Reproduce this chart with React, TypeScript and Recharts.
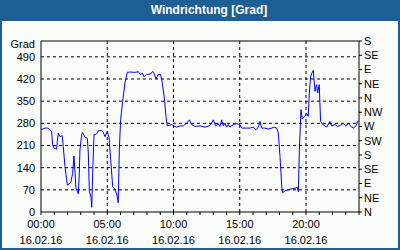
import React from 'react';
import { LineChart, Line, XAxis, YAxis, ReferenceLine } from 'recharts';

// Messzeitpunkte (Stunden seit 00:00) und Windrichtung in Grad
const hours = [
  0, 0.3, 0.5, 0.68, 0.8, 0.88, 0.98, 1.18, 1.23, 1.3, 1.43, 1.6, 1.68, 1.81, 1.99, 2.14, 2.26, 2.39,
  2.49, 2.57, 2.64, 2.82, 2.89, 2.94, 3.07, 3.14, 3.32, 3.5, 3.57, 3.65, 3.77, 3.83, 3.9, 4.0, 4.2,
  4.33, 4.58, 4.7, 4.83, 5.0, 5.13, 5.26, 5.41, 5.58, 5.71, 5.83, 5.91, 6.01, 6.16, 6.34, 6.51, 6.72,
  7.09, 7.35, 7.52, 7.65, 7.77, 7.97, 8.28, 8.43, 8.55, 8.68, 8.85, 9.03, 9.15, 9.31, 9.43, 9.53, 9.86,
  10.04, 10.24, 10.5, 10.74, 11.0, 11.2, 11.37, 11.62, 12.0, 12.38, 12.7, 12.88, 13.0, 13.19, 13.38,
  13.5, 13.64, 13.76, 13.89, 14.0, 14.14, 14.26, 14.51, 14.77, 15.02, 15.15, 15.52, 15.77, 16.02,
  16.23, 16.4, 16.53, 16.66, 16.9, 17.15, 17.41, 17.58, 17.79, 17.91, 18.04, 18.17, 18.24, 18.42,
  18.79, 19.17, 19.35, 19.42, 19.5, 19.62, 19.72, 19.92, 20.05, 20.17, 20.25, 20.35, 20.45, 20.55,
  20.68, 20.8, 20.88, 21.0, 21.1, 21.3, 21.56, 21.8, 21.94, 22.19, 22.4, 22.7, 22.8, 23.0, 23.2,
  23.45, 23.6, 23.77, 23.94,
];
const degrees = [
  260, 265, 265, 260, 254, 212, 202, 198, 223, 249, 238, 241, 207, 143, 85, 89, 96, 122,
  177, 122, 75, 57, 123, 196, 244, 251, 236, 233, 186, 64, 48, 15, 123, 244, 247,
  257, 257, 251, 238, 254, 236, 165, 80, 72, 57, 29, 196, 291, 349, 408, 441, 442,
  441, 443, 434, 439, 427, 434, 436, 444, 436, 420, 434, 434, 408, 360, 302, 272, 276,
  272, 268, 272, 272, 281, 291, 276, 270, 272, 268, 272, 281, 291, 272, 279,
  270, 291, 272, 281, 268, 276, 268, 276, 279, 276, 265, 265, 265, 268,
  260, 268, 286, 265, 265, 262, 265, 268, 265, 249, 175, 80, 61, 67,
  72, 75, 78, 64, 196, 323, 294, 302, 312, 302, 376, 428, 439, 447,
  381, 402, 376, 402, 286, 275, 268, 286, 272, 276, 270, 276, 281, 272, 279,
  268, 265, 272, 289,
];

const hourTicks = Array.from({ length: 25 }, (_, i) => i);
const labelHours = [0, 5, 10, 15, 20];
const timeLabels = ['00:00', '05:00', '10:00', '15:00', '20:00'];
const dateLabel = '16.02.16';
const degreeTicks = [0, 70, 140, 210, 280, 350, 420, 490];
const compassTicks = [0, 45, 90, 135, 180, 225, 270, 315, 360, 405, 450, 495, 540];
const compassLabels = ['N', 'NE', 'E', 'SE', 'S', 'SW', 'W', 'NW', 'N', 'NE', 'E', 'SE', 'S'];

const data = hours.map((t, i) => ({ t, v: degrees[i] }));

const FONT = '"Liberation Sans", Arial, sans-serif';
const tickStyle = { fill: '#000', fontSize: 11, fontFamily: FONT };

const TimeTick = ({ x, y, payload }: any) => {
  const idx = labelHours.indexOf(Number(payload.value));
  if (idx < 0) return <g />;
  return (
    <g>
      <text x={x} y={y + 11} textAnchor="middle" {...tickStyle}>{timeLabels[idx]}</text>
      <text x={x} y={y + 27} textAnchor="middle" {...tickStyle}>{dateLabel}</text>
    </g>
  );
};

const CompassTick = ({ x, y, payload }: any) => {
  const idx = compassTicks.indexOf(Number(payload.value));
  return (
    <text x={x} y={y} dy="0.355em" textAnchor="start" {...tickStyle}>
      {idx >= 0 ? compassLabels[idx] : ''}
    </text>
  );
};

export default function App() {
  return (
    <div style={{ position: 'absolute', left: 0, top: 0, width: 400, height: 250, background: '#1d5f94', fontFamily: FONT }}>
      <div style={{ position: 'absolute', left: 9, top: 3, width: 400, textAlign: 'center', color: '#fff', fontWeight: 'bold', fontSize: 12 }}>
        Windrichtung [Grad]
      </div>
      <div style={{ position: 'absolute', left: 2, top: 21, width: 396, height: 227, background: '#fafcfa' }} />
      <div style={{ position: 'absolute', right: 365, top: 38, fontSize: 11, lineHeight: '13px', color: '#000' }}>Grad</div>
      <div style={{ position: 'absolute', left: 0, top: 0, width: 400, height: 250 }}>
        <LineChart width={400} height={250} data={data} margin={{ top: 41, right: 0, bottom: 0, left: 0 }}>
          <XAxis
            dataKey="t"
            type="number"
            domain={[0, 24]}
            ticks={hourTicks}
            interval={0}
            height={38}
            tickSize={3}
            tick={<TimeTick />}
            stroke="#000"
          />
          <YAxis
            yAxisId="left"
            orientation="left"
            domain={[0, 540]}
            ticks={degreeTicks}
            interval={0}
            width={41}
            tickSize={4}
            tickLine={false}
            tick={tickStyle}
            stroke="#000"
          />
          <YAxis
            yAxisId="right"
            orientation="right"
            type="number"
            domain={[0, 540]}
            ticks={compassTicks}
            interval={0}
            width={41}
            tickSize={3}
            tickLine={{ stroke: '#000' }}
            axisLine={{ stroke: '#000' }}
            tick={<CompassTick />}
            stroke="#000"
          />
          {degreeTicks.slice(1).map((d) => (
            <ReferenceLine key={'h' + d} yAxisId="left" y={d} stroke="#000" strokeDasharray="3 3" />
          ))}
          {labelHours.slice(1).map((h) => (
            <ReferenceLine key={'v' + h} yAxisId="left" x={h} stroke="#000" strokeDasharray="3 3" />
          ))}
          <ReferenceLine yAxisId="left" y={540} stroke="#000" />
          {/* unsichtbare Serie, damit die rechte Achse gezeichnet wird */}
          <Line
            yAxisId="right"
            type="linear"
            dataKey="v"
            stroke="none"
            dot={false}
            activeDot={false}
            isAnimationActive={false}
          />
          <Line
            yAxisId="left"
            type="linear"
            dataKey="v"
            stroke="#0000ff"
            strokeWidth={1}
            dot={false}
            isAnimationActive={false}
          />
        </LineChart>
      </div>
    </div>
  );
}
